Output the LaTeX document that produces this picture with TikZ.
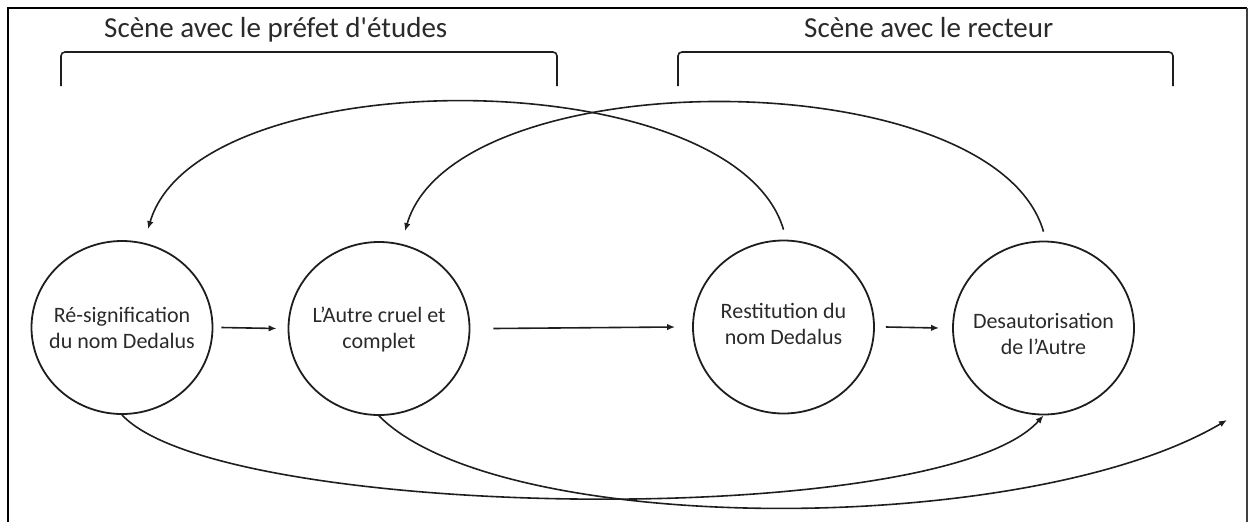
\documentclass[tikz,border=0pt]{standalone}
\usepackage{fontspec}
\setmainfont{Carlito}
\usetikzlibrary{arrows.meta,shapes.geometric}
\definecolor{linec}{HTML}{1E1E1E}
\definecolor{textc}{HTML}{2A2A2A}
\begin{document}
\begin{tikzpicture}[x=1pt,y=-1pt,
  stage/.style={ellipse,draw=linec,line width=1.8pt,minimum width=181pt,minimum height=173pt,inner sep=0pt},
  stagetext/.style={align=center,text=textc,font=\fontsize{22}{26}\selectfont,inner sep=0pt},
  title/.style={text=textc,font=\fontsize{29}{31}\selectfont,anchor=base west,inner sep=0pt},
  brk/.style={draw=linec,line width=1.6pt,rounded corners=4pt},
  arr/.style={draw=linec,line width=1.6pt,-{Latex[length=8pt,width=6.5pt]}},
  frameline/.style={draw=black,line width=2pt}]
\useasboundingbox (0,0) rectangle (1250,522);
% frame
\draw[frameline] (8,522) -- (8,8) -- (1247,8);
\draw[draw=black!75,line width=1.2pt] (1247,8) -- (1247,522);
% titles and brackets
\node[title] (s1) at (104,37) {Scène avec le préfet d\textquotesingle études};
\node[title] (s2) at (804,37) {Scène avec le recteur};
\draw[brk] (61,86) -- (61,52) -- (557,52) -- (557,86);
\draw[brk] (678,86) -- (678,52) -- (1173,52) -- (1173,86);
% stages
\node[stage] (c1) at (122,327.5) {};
\node[stage] (c2) at (379,328.5) {};
\node[stage] (c3) at (783.5,327) {};
\node[stage] (c4) at (1043.5,328) {};
\node[stagetext] (t1) at (122,328) {Ré-signification\\du nom Dedalus};
\node[stagetext] (t2) at (379,329.5) {L’Autre cruel et\\complet};
\node[stagetext] (t3) at (783.5,323.5) {Restitution du\\nom Dedalus};
\node[stagetext] (t4) at (1043.5,333.5) {Desautorisation\\de l’Autre};
% straight arrows
\draw[arr] ([xshift=8pt]c1.east) -- ([xshift=-11pt]c2.west);
\draw[arr] ([xshift=23pt]c2.east) -- ([xshift=-17pt]c3.west);
\draw[arr] ([xshift=11pt]c3.east) -- ([xshift=-13pt]c4.west);
% upper arcs
\draw[arr] ([yshift=10pt]c3.north) .. controls +(-50,-170) and +(50,-171) .. ([xshift=26pt,yshift=11pt]c1.north);
\draw[arr] ([yshift=9pt]c4.north) .. controls +(-50,-172) and +(50,-172) .. ([xshift=26pt,yshift=10pt]c2.north);
% lower arcs
\coordinate (dend) at (1227,420);
\draw[arr] (c1.south) .. controls +(98,106) and +(-103,116) .. (c4.south);
\draw[arr] (c2.south) .. controls +(121,122) and +(-200,118) .. (dend);
\end{tikzpicture}
\end{document}
